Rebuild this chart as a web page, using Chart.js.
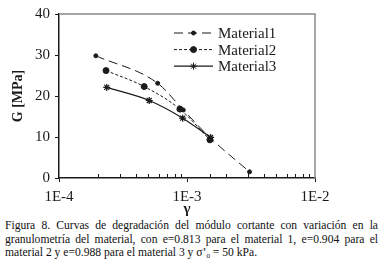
<!DOCTYPE html>
<html>
<head>
<meta charset="utf-8">
<script src="https://cdn.jsdelivr.net/npm/chart.js@4"></script>
<style>
	body { margin: 0; background: #fff; width: 384px; height: 271px; overflow: hidden; position: relative; font-family: "Times New Roman", "Liberation Serif", serif; }
	#chart-container { position: absolute; left: 0; top: 0; width: 384px; height: 218px; }
	#caption { position: absolute; left: 5px; top: 219px; width: 373px; font-size: 11.6px; line-height: 13.6px; color: #111; }
	#caption span { display: block; text-align: justify; text-align-last: justify; white-space: nowrap; }
	#caption span.last { text-align-last: left; }
	sub { font-size: 7px; vertical-align: -2px; }
</style>
</head>
<body>
<div id="chart-container"><canvas id="chart" width="384" height="218"></canvas></div>
<div id="caption">
	<span>Figura 8. Curvas de degradación del módulo cortante con variación en la</span>
	<span>granulometría del material, con e=0.813 para el material 1, e=0.904 para el</span>
	<span class="last">material 2 y e=0.988 para el material 3 y σ’<sub>0</sub> = 50 kPa.</span>
</div>
<script>
	// strain (gamma) and shear modulus G [MPa]
	var names = ['Material1', 'Material2', 'Material3'];
	var gamma1 = [1.94e-4, 5.9e-4, 9.35e-4, 1.53e-3, 3.08e-3];
	var g1 = [29.8, 23.1, 16.6, 9.7, 1.5];
	var gamma2 = [2.33e-4, 4.63e-4, 8.8e-4, 1.51e-3];
	var g2 = [26.2, 22.3, 16.8, 9.3];
	var gamma3 = [2.36e-4, 5.07e-4, 9.25e-4, 1.53e-3];
	var g3 = [22.1, 18.9, 14.6, 9.9];
	var yTicks = [0, 10, 20, 30, 40];

	var font = '"Times New Roman", "Liberation Serif", serif';
	var ink = '#1a1a1a';

	function pairs(xs, ys) {
		return xs.map(function (x, i) { return {x: x, y: ys[i]}; });
	}

	function isDecade(v) {
		var l = Math.log10(v);
		return Math.abs(l - Math.round(l)) < 1e-9;
	}

	// minor ticks of the log axis point up into the plot, plus the grey frame
	var frame = {
		id: 'frame',
		afterDraw: function (chart) {
			var ctx = chart.ctx, a = chart.chartArea, xs = chart.scales.x;
			ctx.save();
			ctx.strokeStyle = '#8a8a8a';
			ctx.lineWidth = 1.5;
			ctx.beginPath();
			ctx.moveTo(a.left, a.top);
			ctx.lineTo(a.right, a.top);
			ctx.lineTo(a.right, a.bottom);
			ctx.stroke();
			ctx.strokeStyle = ink;
			ctx.lineWidth = 1;
			xs.ticks.forEach(function (t) {
				if (isDecade(t.value)) return;
				var px = Math.round(xs.getPixelForValue(t.value)) + 0.5;
				ctx.beginPath();
				ctx.moveTo(px, a.bottom);
				ctx.lineTo(px, a.bottom - 4);
				ctx.stroke();
			});
			ctx.restore();
		}
	};

	var legendBox = {
		id: 'legendBox',
		afterDraw: function (chart) {
			var ctx = chart.ctx, a = chart.chartArea;
			var x0 = a.left + 115, x1 = a.left + 154, y0 = a.top + 19;
			ctx.save();
			chart.data.datasets.forEach(function (ds, i) {
				var y = y0 + i * 16.6;
				ctx.strokeStyle = ds.borderColor;
				ctx.lineWidth = ds.borderWidth;
				ctx.setLineDash(ds.borderDash || []);
				ctx.beginPath();
				ctx.moveTo(x0, y);
				ctx.lineTo(x1, y);
				ctx.stroke();
				ctx.setLineDash([]);
				ctx.fillStyle = ds.pointBackgroundColor;
				ctx.strokeStyle = ds.pointBorderColor;
				ctx.lineWidth = 1;
				Chart.helpers.drawPoint(ctx, {pointStyle: ds.pointStyle, radius: ds.pointRadius, borderWidth: 1, rotation: 0}, (x0 + x1) / 2, y);
				ctx.fillStyle = ink;
				ctx.font = '15px ' + font;
				ctx.textBaseline = 'middle';
				ctx.fillText(ds.label, x1 + 5, y + 1);
			});
			ctx.restore();
		}
	};

	new Chart(document.getElementById('chart'), {
		type: 'line',
		data: {
			datasets: [{
				label: names[0],
				data: pairs(gamma1, g1),
				borderColor: ink,
				borderWidth: 1,
				borderDash: [9, 5],
				pointStyle: 'circle',
				pointRadius: 2,
				pointBackgroundColor: ink,
				pointBorderColor: ink,
				cubicInterpolationMode: 'monotone'
			}, {
				label: names[1],
				data: pairs(gamma2, g2),
				borderColor: ink,
				borderWidth: 1,
				borderDash: [3, 2],
				pointStyle: 'circle',
				pointRadius: 3,
				pointBackgroundColor: ink,
				pointBorderColor: ink,
				cubicInterpolationMode: 'monotone'
			}, {
				label: names[2],
				data: pairs(gamma3, g3),
				borderColor: ink,
				borderWidth: 1.2,
				pointStyle: 'star',
				pointRadius: 3.5,
				pointBackgroundColor: ink,
				pointBorderColor: ink,
				cubicInterpolationMode: 'monotone'
			}]
		},
		options: {
			responsive: false,
			animation: false,
			layout: {padding: {top: 14, right: 69, left: 0, bottom: 0}},
			plugins: {legend: {display: false}, tooltip: {enabled: false}},
			scales: {
				x: {
					type: 'logarithmic',
					min: 1e-4,
					max: 1e-2,
					afterFit: function (s) { s.height = 40; },
					border: {color: ink, width: 1.5},
					grid: {
						drawOnChartArea: false,
						tickLength: 4,
						tickColor: function (c) { return c.tick && isDecade(c.tick.value) ? ink : 'rgba(0,0,0,0)'; }
					},
					ticks: {
						autoSkip: false,
						maxRotation: 0,
						padding: 6,
						color: ink,
						font: {family: font, size: 15},
						callback: function (v) {
							return isDecade(v) ? '1E' + Math.round(Math.log10(v)) : '';
						}
					},
					title: {display: true, text: 'γ', color: ink, padding: 0, font: {family: font, size: 15, weight: 'bold'}}
				},
				y: {
					min: 0,
					max: 40,
					afterBuildTicks: function (s) { s.ticks = yTicks.map(function (v) { return {value: v}; }); },
					afterFit: function (s) { s.width = 59; },
					border: {color: ink, width: 1.5},
					grid: {drawOnChartArea: false, tickLength: 4, tickColor: ink},
					ticks: {padding: 5, color: ink, font: {family: font, size: 15}},
					title: {display: true, text: 'G [MPa]', color: ink, padding: {top: 10}, font: {family: font, size: 14, weight: 'bold'}}
				}
			}
		},
		plugins: [frame, legendBox]
	});
</script>
</body>
</html>
